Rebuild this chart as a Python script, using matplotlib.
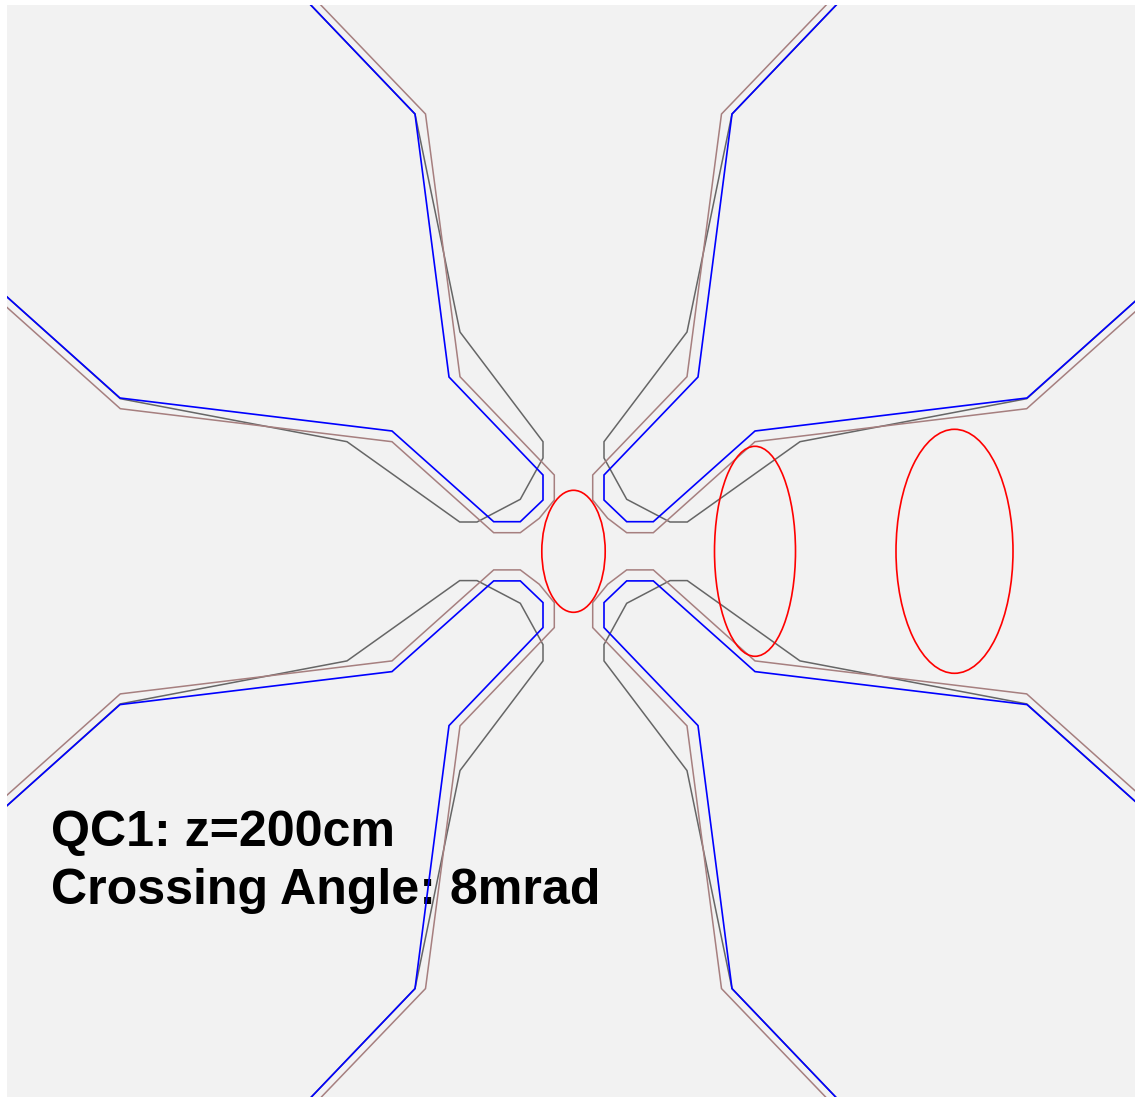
import numpy as np
import matplotlib
matplotlib.use("Agg")
import matplotlib.pyplot as plt
from matplotlib.patches import Ellipse

W, H = 1135, 1097

# one quadrant of each aperture outline; the other three are its mirror images
blue_x = [272, 158.5, 124.5, 30.5, 30.5, 53.2, 79.8, 181.5, 453.5, 575]
blue_y = [556, 437.3, 174.3, 76.3, 51.3, 29.6, 29.6, 120.3, 153.3, 262]
brown_x = [262, 148, 113.5, 19.2, 19.2, 34.2, 53.2, 79.8, 181.5, 453.2, 575]
brown_y = [556, 437.3, 174.6, 76.3, 51.3, 33, 18.6, 18.6, 109.6, 142.6, 251.5]
gray_x = [272, 158.5, 113.5, 30.5, 30.5, 53.2, 96.5, 113.8, 226.5, 453.2, 575]
gray_y = [556, 437.3, 219.3, 109.6, 93.3, 52, 29.3, 29.3, 109.6, 152.6, 262]

# beam envelopes: centre x, half width, half height
ell_cx = [0, 181.5, 381]
ell_rx = [31.7, 40.5, 58.5]
ell_ry = [61, 105, 122]

label_lines = ["QC1: z=200cm", "Crossing Angle: 8mrad"]

fig = plt.figure(figsize=(W / 100, H / 100), dpi=100, facecolor="white")
ax = fig.add_axes([7 / W, 0, 1 - 7 / W, 1 - 5 / H], facecolor="#f2f2f2")
ax.set_xlim(-566.5, 561.5)
ax.set_ylim(-545.7, 546.3)
ax.set_xticks([])
ax.set_yticks([])
for s in ax.spines.values():
    s.set_visible(False)

for xs, ys, col, z, lw in [
    (gray_x, gray_y, "#666666", 3, 1.1),
    (brown_x, brown_y, "#a67f7f", 4, 1.1),
    (blue_x, blue_y, "#0000ff", 5, 1.2),
]:
    for sx in (1, -1):
        for sy in (1, -1):
            ax.plot(sx * np.array(xs), sy * np.array(ys), color=col, lw=lw,
                    zorder=z, solid_joinstyle="miter")

for cx, rx, ry in zip(ell_cx, ell_rx, ell_ry):
    ax.add_patch(Ellipse((cx, 0), 2 * rx, 2 * ry, fill=False,
                         edgecolor="#ff0000", lw=1.2, zorder=6))

for line, yy in zip(label_lines, [-294.7, -352.7]):
    ax.text(-522.5, yy, line, family="Liberation Sans", weight="bold",
            fontsize=36.1, color="black", ha="left", va="baseline", zorder=2)

fig.savefig("out.png", dpi=100, facecolor=fig.get_facecolor())
